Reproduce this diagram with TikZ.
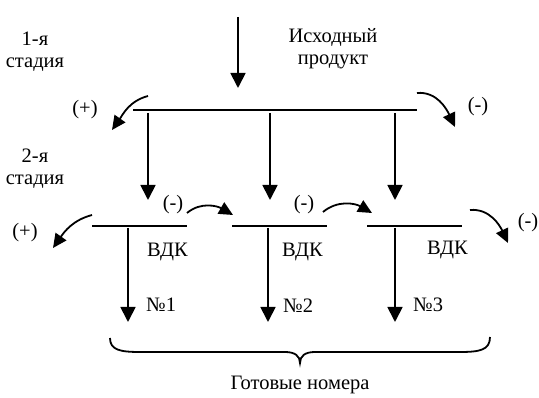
\documentclass[tikz,border=0pt]{standalone}
\usepackage{fontspec}
\setmainfont{Liberation Serif}
\usetikzlibrary{arrows.meta,positioning}

\begin{document}
\begin{tikzpicture}[x=1pt,y=1pt,
    bar/.style={line width=2.2pt},
    flow/.style={line width=1.8pt,-{Triangle[length=15pt,width=15pt]}},
    turn/.style={line width=1.8pt,-{Triangle[length=14pt,width=13pt]}},
    every node/.style={font=\fontsize{20.5}{22}\selectfont,align=center,inner sep=0pt}]
      \useasboundingbox (0,0) rectangle (539,398);
      % stage one
      \coordinate (in) at (238,381);
      \coordinate (inE) at (238,310);
      \coordinate (T1) at (133,288);
      \coordinate (T2) at (417,288);
      \draw[flow] (in) -- (inE);
      \draw[bar] (T1) -- (T2);
      \node (src) at (333,349) {Исходный\\продукт};
      \node (s1) at (35,346) {1-я\\стадия};
      \node (s2) at (35,229) {2-я\\стадия};
      \begin{scope}
        \coordinate (a1) at (148,302); \coordinate (a1e) at (112,268);
        \coordinate (a2) at (417,305); \coordinate (a2e) at (455,271);
        \draw[turn] (a1) to[out=195,in=55] (a1e);
        \draw[turn] (a2) to[out=5,in=115] (a2e);
        \node (p0) at (85,288) {(+)};
        \node (m0) at (478,291) {(-)};
      \end{scope}
      % stage two: three columns
      \foreach \i/\xs/\xa/\xb/\xd in {1/148/92/187/128, 2/270/232/327/268, 3/395/367/462/395} {
        \coordinate (u\i) at (\xs,285);
        \coordinate (ue\i) at (\xs,198);
        \coordinate (B\i) at (\xa,172);
        \coordinate (Be\i) at (\xb,172);
        \coordinate (d\i) at (\xd,170);
        \coordinate (de\i) at (\xd,76);
        \draw[flow] (u\i) -- (ue\i);
        \draw[bar] (B\i) -- (Be\i);
        \draw[flow] (d\i) -- (de\i);
      }
      \node (v1) [anchor=west] at (147,146) {ВДК};
      \node (v2) [anchor=west] at (282,146) {ВДК};
      \node (v3) [anchor=west] at (427,148) {ВДК};
      \node (n1) [anchor=west] at (146,93) {№1};
      \node (n2) [anchor=west] at (283,92) {№2};
      \node (n3) [anchor=west] at (413,93) {№3};
      \begin{scope}
        \coordinate (c1) at (187,185); \coordinate (c1e) at (233,183);
        \coordinate (c2) at (323,186); \coordinate (c2e) at (372,185);
        \coordinate (c3) at (470,188); \coordinate (c3e) at (508,155);
        \coordinate (c0) at (92,183);  \coordinate (c0e) at (53,150);
        \draw[turn] (c1) to[out=40,in=150] (c1e);
        \draw[turn] (c2) to[out=40,in=150] (c2e);
        \draw[turn] (c3) to[out=5,in=115] (c3e);
        \draw[turn] (c0) to[out=195,in=55] (c0e);
        \node (m1) at (173,193) {(-)};
        \node (m2) at (304,193) {(-)};
        \node (m3) at (528,175) {(-)};
        \node (p1) at (25,165) {(+)};
      \end{scope}
      % brace and result
      \coordinate (br1) at (110,60);
      \coordinate (br2) at (490,61);
      \coordinate (tip) at (300,35);
      \draw[line width=1.8pt] (br1) .. controls (110,48) and (120,46) .. (140,46) -- (285,46)
        .. controls (295,46) and (300,42) .. (tip)
        .. controls (300,42) and (305,46) .. (315,46) -- (460,46)
        .. controls (480,46) and (490,48) .. (br2);
      \node (res) at (300,13) {Готовые номера};
\end{tikzpicture}
\end{document}
